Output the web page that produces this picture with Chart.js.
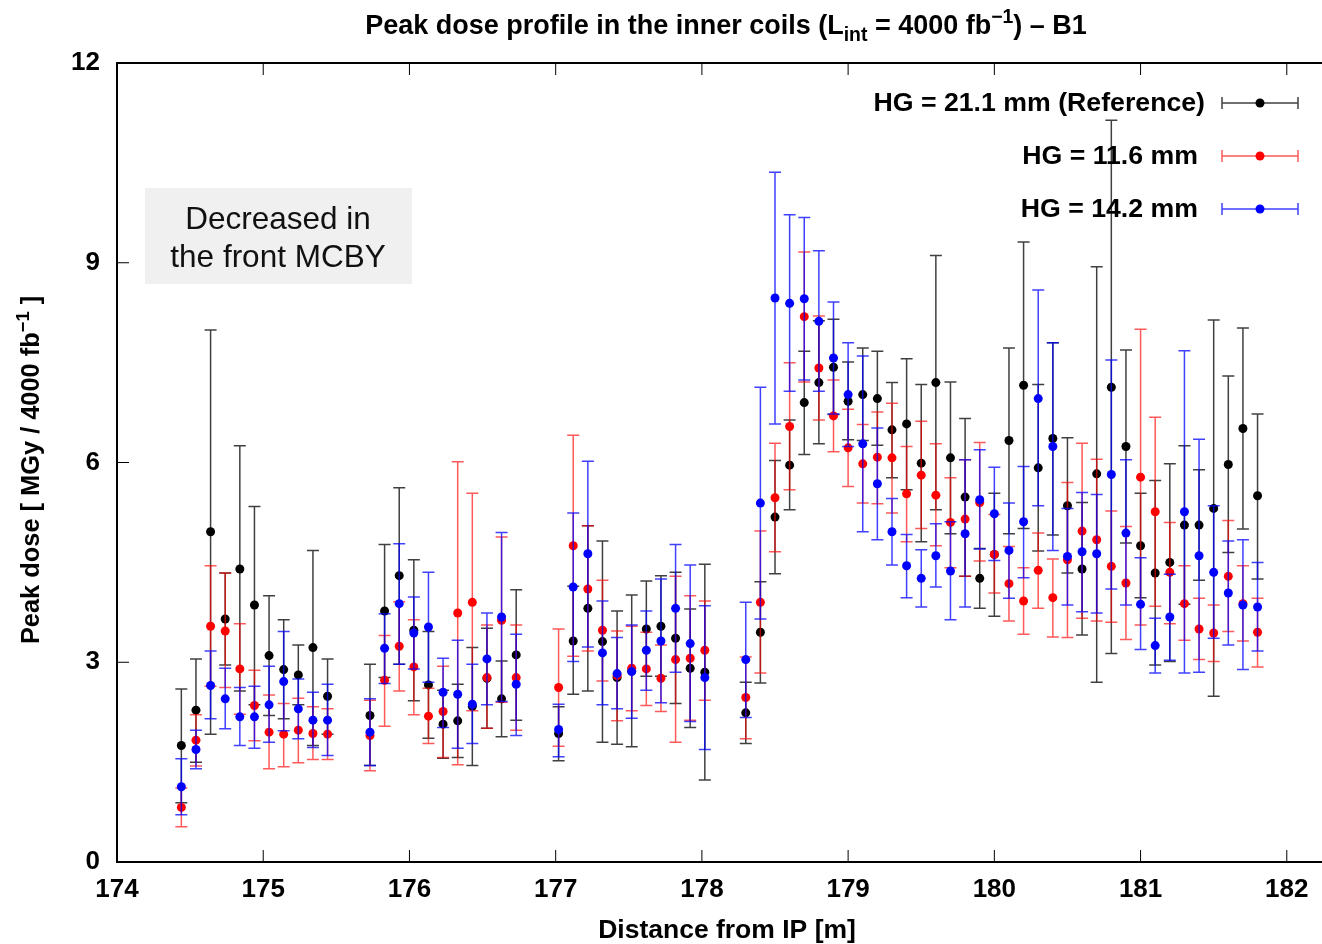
<!DOCTYPE html>
<html>
<head>
<meta charset="utf-8">
<script src="https://cdn.jsdelivr.net/npm/chart.js@4.4.0/dist/chart.umd.min.js"></script>
<style>
  html, body { margin: 0; padding: 0; background: #fff; }
  canvas { display: block; }
</style>
</head>
<body>
<canvas id="dose" width="1322" height="944"></canvas>
<script>
// positions along the beam line [m]
const positions = [
  174.44, 174.54, 174.64, 174.74, 174.84, 174.94, 175.04, 175.14, 175.24, 175.34, 175.44,
  175.73, 175.83, 175.93, 176.03, 176.13, 176.23, 176.33, 176.43, 176.53, 176.63, 176.73,
  177.02, 177.12, 177.22, 177.32, 177.42, 177.52, 177.62, 177.72, 177.82, 177.92, 178.02,
  178.3, 178.4, 178.5, 178.6, 178.7, 178.8, 178.9, 179.0, 179.1, 179.2, 179.3, 179.4,
  179.5, 179.6, 179.7, 179.8, 179.9, 180.0, 180.1, 180.2, 180.3, 180.4, 180.5, 180.6,
  180.7, 180.8, 180.9, 181.0, 181.1, 181.2, 181.3, 181.4, 181.5, 181.6, 181.7, 181.8
];

// HG = 21.1 mm (Reference)
const refDose = [
  1.75, 2.28, 4.96, 3.65, 4.40, 3.86, 3.10, 2.89, 2.81, 3.22, 2.49,
  2.20, 3.77, 4.30, 3.48, 2.66, 2.07, 2.12, 2.34, 2.76, 2.45, 3.11,
  1.93, 3.32, 3.81, 3.31, 2.77, 2.87, 3.50, 3.54, 3.36, 2.91, 2.85,
  2.24, 3.45, 5.18, 5.96, 6.90, 7.20, 7.43, 6.92, 7.02, 6.96, 6.49, 6.58,
  5.99, 7.20, 6.07, 5.48, 4.26, 4.62, 6.33, 7.16, 5.92, 6.36, 5.35, 4.40,
  5.83, 7.13, 6.24, 4.75, 4.34, 4.50, 5.06, 5.06, 5.31, 5.97, 6.51, 5.50
];
const refLow = [
  0.89, 1.50, 1.92, 2.96, 2.57, 2.36, 2.20, 2.15, 2.36, 1.75, 1.92,
  1.45, 2.77, 2.97, 2.42, 1.86, 1.56, 1.57, 1.45, 2.01, 1.88, 2.13,
  1.52, 2.52, 2.57, 1.80, 1.77, 1.73, 2.79, 2.79, 2.38, 2.02, 1.23,
  1.78, 2.69, 4.33, 5.29, 6.12, 6.28, 6.72, 6.34, 6.33, 6.26, 5.77, 5.59,
  4.81, 5.29, 4.93, 4.29, 3.81, 3.69, 4.93, 5.01, 4.67, 4.91, 4.34, 3.41,
  2.70, 3.13, 4.79, 3.97, 2.96, 3.01, 3.87, 4.23, 2.49, 4.65, 5.00, 4.25
];
const refHigh = [
  2.60, 3.05, 7.99, 4.34, 6.25, 5.34, 4.00, 3.64, 3.26, 4.68, 3.05,
  2.97, 4.77, 5.62, 4.54, 3.46, 2.58, 2.67, 3.22, 3.51, 3.02, 4.09,
  2.33, 4.14, 5.05, 4.82, 3.77, 4.01, 4.22, 4.30, 4.35, 3.80, 4.47,
  2.70, 4.21, 6.03, 6.64, 7.67, 8.13, 8.15, 7.51, 7.72, 7.67, 7.20, 7.56,
  7.17, 9.11, 7.21, 6.66, 4.71, 5.54, 7.72, 9.31, 7.17, 7.80, 6.37, 5.40,
  8.94, 11.14, 7.69, 5.54, 5.73, 5.98, 6.25, 5.89, 8.14, 7.30, 8.02, 6.73
];

// HG = 11.6 mm
const hg116Dose = [
  0.82, 1.83, 3.54, 3.47, 2.90, 2.35, 1.95, 1.92, 1.98, 1.93, 1.92,
  1.90, 2.73, 3.24, 2.93, 2.19, 2.26, 3.74, 3.90, 2.77, 3.63, 2.77,
  2.62, 4.75, 4.10, 3.48, 2.80, 2.91, 2.90, 2.76, 3.04, 3.06, 3.18,
  2.47, 3.90, 5.47, 6.54, 8.19, 7.42, 6.70, 6.22, 5.98, 6.08, 6.07, 5.53,
  5.81, 5.51, 5.10, 5.15, 5.40, 4.62, 4.18, 3.92, 4.38, 3.97, 4.54, 4.97,
  4.84, 4.44, 4.19, 5.78, 5.26, 4.35, 3.88, 3.50, 3.44, 4.29, 3.88, 3.45
];
const hg116Low = [
  0.53, 1.44, 2.64, 2.62, 2.22, 1.82, 1.40, 1.43, 1.49, 1.54, 1.54,
  1.37, 2.04, 2.57, 2.21, 1.78, 1.57, 1.46, 2.27, 2.01, 2.40, 1.98,
  1.74, 3.09, 3.17, 2.72, 2.12, 2.27, 2.35, 2.26, 1.80, 2.13, 2.43,
  1.85, 2.84, 4.66, 5.59, 7.21, 6.64, 6.16, 5.64, 5.39, 5.38, 5.24, 4.81,
  5.01, 4.75, 4.42, 4.29, 4.52, 4.04, 3.62, 3.42, 3.81, 3.38, 3.37, 3.66,
  3.62, 3.60, 3.34, 3.56, 3.84, 3.58, 3.33, 3.04, 3.01, 3.46, 3.32, 2.93
];
const hg116High = [
  1.11, 2.21, 4.45, 4.34, 3.58, 2.88, 2.51, 2.38, 2.46, 2.33, 2.30,
  2.43, 3.40, 3.91, 3.64, 2.61, 2.94, 6.01, 5.54, 3.56, 4.88, 3.56,
  3.50, 6.41, 5.05, 4.23, 3.47, 3.54, 3.45, 3.26, 4.29, 4.00, 3.92,
  3.08, 4.97, 6.29, 7.50, 9.16, 8.20, 7.24, 6.80, 6.57, 6.76, 6.89, 6.24,
  6.62, 6.28, 5.77, 6.04, 6.30, 5.22, 4.74, 4.42, 4.94, 4.55, 5.70, 6.29,
  6.05, 5.27, 5.04, 8.00, 6.68, 5.10, 4.45, 3.96, 3.86, 5.13, 4.45, 3.96
];

// HG = 14.2 mm
const hg142Dose = [
  1.13, 1.69, 2.65, 2.45, 2.18, 2.18, 2.36, 2.71, 2.30, 2.13, 2.13,
  1.95, 3.21, 3.88, 3.44, 3.53, 2.55, 2.52, 2.37, 3.05, 3.68, 2.67,
  1.99, 4.13, 4.63, 3.14, 2.83, 2.86, 3.18, 3.32, 3.81, 3.28, 2.77,
  3.04, 5.39, 8.47, 8.39, 8.46, 8.12, 7.57, 7.02, 6.28, 5.68, 4.96, 4.45,
  4.26, 4.60, 4.37, 4.93, 5.44, 5.23, 4.68, 5.11, 6.96, 6.24, 4.59, 4.66,
  4.63, 5.82, 4.94, 3.87, 3.25, 3.68, 5.26, 4.60, 4.35, 4.04, 3.86, 3.83
];
const hg142Low = [
  0.71, 1.40, 2.15, 2.00, 1.75, 1.71, 1.80, 1.97, 1.85, 1.72, 1.60,
  1.45, 2.68, 2.97, 2.90, 2.70, 2.02, 1.71, 1.78, 2.36, 2.41, 1.90,
  1.58, 3.01, 3.23, 2.36, 2.30, 2.16, 2.58, 2.39, 2.85, 2.11, 1.69,
  2.17, 3.65, 6.58, 7.07, 7.24, 7.07, 6.73, 6.24, 4.96, 4.84, 4.46, 3.97,
  3.83, 4.13, 3.64, 3.83, 4.70, 4.53, 3.96, 4.27, 5.35, 4.68, 3.86, 3.76,
  3.74, 4.10, 3.86, 3.19, 2.84, 3.03, 2.84, 2.85, 3.36, 3.26, 2.89, 3.17
];
const hg142High = [
  1.55, 1.98, 3.17, 2.91, 2.62, 2.64, 2.94, 3.46, 2.75, 2.55, 2.67,
  2.45, 3.73, 4.78, 3.98, 4.35, 3.06, 3.33, 2.97, 3.74, 4.95, 3.42,
  2.37, 5.24, 6.02, 3.92, 3.37, 3.56, 3.77, 4.25, 4.77, 4.46, 3.85,
  3.90, 7.13, 10.36, 9.72, 9.68, 9.18, 8.41, 7.80, 7.60, 6.52, 5.46, 4.92,
  4.69, 5.08, 5.11, 6.04, 6.19, 5.93, 5.39, 5.94, 8.59, 7.80, 5.31, 5.55,
  5.52, 7.54, 6.04, 4.57, 3.66, 4.32, 7.68, 6.35, 5.35, 4.82, 4.84, 4.50
];

const xTicks = [174, 175, 176, 177, 178, 179, 180, 181, 182];
const yTicks = [0, 3, 6, 9, 12];

const boldFont = '"Liberation Sans", Arial, sans-serif';

function toPoints(vals, lows, highs) {
  return positions.map((x, i) => ({ x: x, y: vals[i], lo: lows[i], hi: highs[i] }));
}

// vertical error bars, drawn just under each dataset's dots
const errorBars = {
  id: 'errorBars',
  beforeDatasetDraw(chart, args) {
    const ds = chart.data.datasets[args.index];
    const x = chart.scales.x, y = chart.scales.y;
    const ctx = chart.ctx;
    ctx.save();
    ctx.strokeStyle = ds.barColor;
    ctx.lineWidth = 1.5;
    ds.data.forEach(p => {
      const px = x.getPixelForValue(p.x);
      const top = y.getPixelForValue(p.hi);
      const bot = y.getPixelForValue(p.lo);
      ctx.beginPath();
      ctx.moveTo(px, top); ctx.lineTo(px, bot);
      ctx.moveTo(px - 6, top); ctx.lineTo(px + 6, top);
      ctx.moveTo(px - 6, bot); ctx.lineTo(px + 6, bot);
      ctx.stroke();
    });
    ctx.restore();
  }
};

// text with sub/superscripts: parts = [text, baseline shift, size factor]
function richText(ctx, parts, x, y, size, align) {
  let total = 0;
  parts.forEach(p => {
    ctx.font = 'bold ' + (size * p[2]).toFixed(1) + 'px ' + boldFont;
    total += ctx.measureText(p[0]).width;
  });
  let cx = align === 'center' ? x - total / 2 : x;
  parts.forEach(p => {
    ctx.font = 'bold ' + (size * p[2]).toFixed(1) + 'px ' + boldFont;
    ctx.fillText(p[0], cx, y + p[1]);
    cx += ctx.measureText(p[0]).width;
  });
}

const frameAndText = {
  id: 'frameAndText',
  afterDraw(chart) {
    const ctx = chart.ctx;
    const a = chart.chartArea;
    const x = chart.scales.x, y = chart.scales.y;
    ctx.save();

    // border (right side is cut off in the original)
    ctx.strokeStyle = '#000';
    ctx.lineWidth = 2;
    ctx.beginPath();
    ctx.moveTo(1322, a.top); ctx.lineTo(a.left, a.top);
    ctx.lineTo(a.left, a.bottom); ctx.lineTo(1322, a.bottom);
    ctx.stroke();

    // inward ticks
    ctx.lineWidth = 1;
    ctx.beginPath();
    xTicks.forEach(v => {
      const px = x.getPixelForValue(v);
      ctx.moveTo(px, a.bottom); ctx.lineTo(px, a.bottom - 12);
      ctx.moveTo(px, a.top); ctx.lineTo(px, a.top + 12);
    });
    yTicks.forEach(v => {
      const py = y.getPixelForValue(v);
      ctx.moveTo(a.left, py); ctx.lineTo(a.left + 12, py);
    });
    ctx.stroke();

    // title
    ctx.fillStyle = '#000';
    ctx.textBaseline = 'alphabetic';
    richText(ctx, [
      ['Peak dose profile in the inner coils (L', 0, 1],
      ['int', 7, 0.72],
      [' = 4000 fb', 0, 1],
      ['\u22121', -11, 0.72],
      [') \u2013 B1', 0, 1]
    ], 726, 34, 27, 'center');

    // axis titles
    ctx.font = 'bold 26.5px ' + boldFont;
    ctx.textAlign = 'center';
    ctx.fillText('Distance from IP [m]', 727, 938);
    ctx.textAlign = 'left';
    ctx.save();
    ctx.translate(39, 470);
    ctx.rotate(-Math.PI / 2);
    richText(ctx, [
      ['Peak dose [ MGy / 4000 fb', 0, 1],
      ['\u22121', -10, 0.72],
      [' ]', 0, 1]
    ], 0, 0, 25.4, 'center');
    ctx.restore();

    // legend
    const rows = [
      ['HG = 21.1 mm (Reference)', 1205, 103, '#000', 'rgba(0,0,0,0.75)'],
      ['HG = 11.6 mm', 1198, 156, '#ff0000', 'rgba(255,0,0,0.65)'],
      ['HG = 14.2 mm', 1198, 209, '#0000ff', 'rgba(0,0,255,0.75)']
    ];
    ctx.font = 'bold 26.7px ' + boldFont;
    ctx.textAlign = 'right';
    ctx.textBaseline = 'middle';
    rows.forEach(r => {
      ctx.fillStyle = '#000';
      ctx.fillText(r[0], r[1], r[2] + 1);
      ctx.strokeStyle = r[4];
      ctx.lineWidth = 1.5;
      ctx.beginPath();
      ctx.moveTo(1222, r[2]); ctx.lineTo(1298, r[2]);
      ctx.moveTo(1222, r[2] - 6); ctx.lineTo(1222, r[2] + 6);
      ctx.moveTo(1298, r[2] - 6); ctx.lineTo(1298, r[2] + 6);
      ctx.stroke();
      ctx.fillStyle = r[3];
      ctx.beginPath();
      ctx.arc(1260, r[2], 4.5, 0, Math.PI * 2);
      ctx.fill();
    });

    // annotation box
    ctx.fillStyle = '#f0f0f0';
    ctx.fillRect(145, 188, 267, 96);
    ctx.fillStyle = '#111';
    ctx.font = '31.5px ' + boldFont;
    ctx.textAlign = 'center';
    ctx.textBaseline = 'alphabetic';
    ctx.fillText('Decreased in', 278, 229);
    ctx.fillText('the front MCBY', 278, 267);

    ctx.restore();
  }
};

function makeSet(label, pts, color, barColor, order) {
  return {
    label: label,
    data: pts,
    showLine: false,
    pointRadius: 4.5,
    pointBorderWidth: 0,
    pointBackgroundColor: color,
    pointBorderColor: color,
    barColor: barColor,
    order: order
  };
}

new Chart(document.getElementById('dose'), {
  type: 'scatter',
  data: {
    datasets: [
      makeSet('HG = 21.1 mm (Reference)', toPoints(refDose, refLow, refHigh), '#000', 'rgba(0,0,0,0.75)', 3),
      makeSet('HG = 11.6 mm', toPoints(hg116Dose, hg116Low, hg116High), '#ff0000', 'rgba(255,0,0,0.65)', 2),
      makeSet('HG = 14.2 mm', toPoints(hg142Dose, hg142Low, hg142High), '#0000ff', 'rgba(0,0,255,0.75)', 1)
    ]
  },
  options: {
    responsive: false,
    animation: false,
    devicePixelRatio: 1,
    layout: { padding: { top: 63, right: 0, bottom: 0, left: 0 } },
    plugins: {
      legend: { display: false },
      title: { display: false },
      tooltip: { enabled: false }
    },
    scales: {
      x: {
        type: 'linear',
        min: 174,
        max: 182.21,
        afterFit: s => { s.height = 82; s.paddingLeft = 0; s.paddingRight = 0; },
        grid: { display: false, drawTicks: false },
        border: { display: false },
        ticks: {
          stepSize: 1,
          includeBounds: false,
          maxRotation: 0,
          autoSkip: false,
          padding: 12,
          color: '#000',
          font: { family: boldFont, size: 26, weight: 'bold' },
          callback: v => Number.isInteger(v) ? String(v) : ''
        }
      },
      y: {
        min: 0,
        max: 12,
        afterFit: s => { s.width = 117; s.paddingTop = 0; s.paddingBottom = 0; },
        grid: { display: false, drawTicks: false },
        border: { display: false },
        ticks: {
          stepSize: 3,
          padding: 17,
          color: '#000',
          font: { family: boldFont, size: 26, weight: 'bold' }
        }
      }
    }
  },
  plugins: [errorBars, frameAndText]
});
</script>
</body>
</html>
